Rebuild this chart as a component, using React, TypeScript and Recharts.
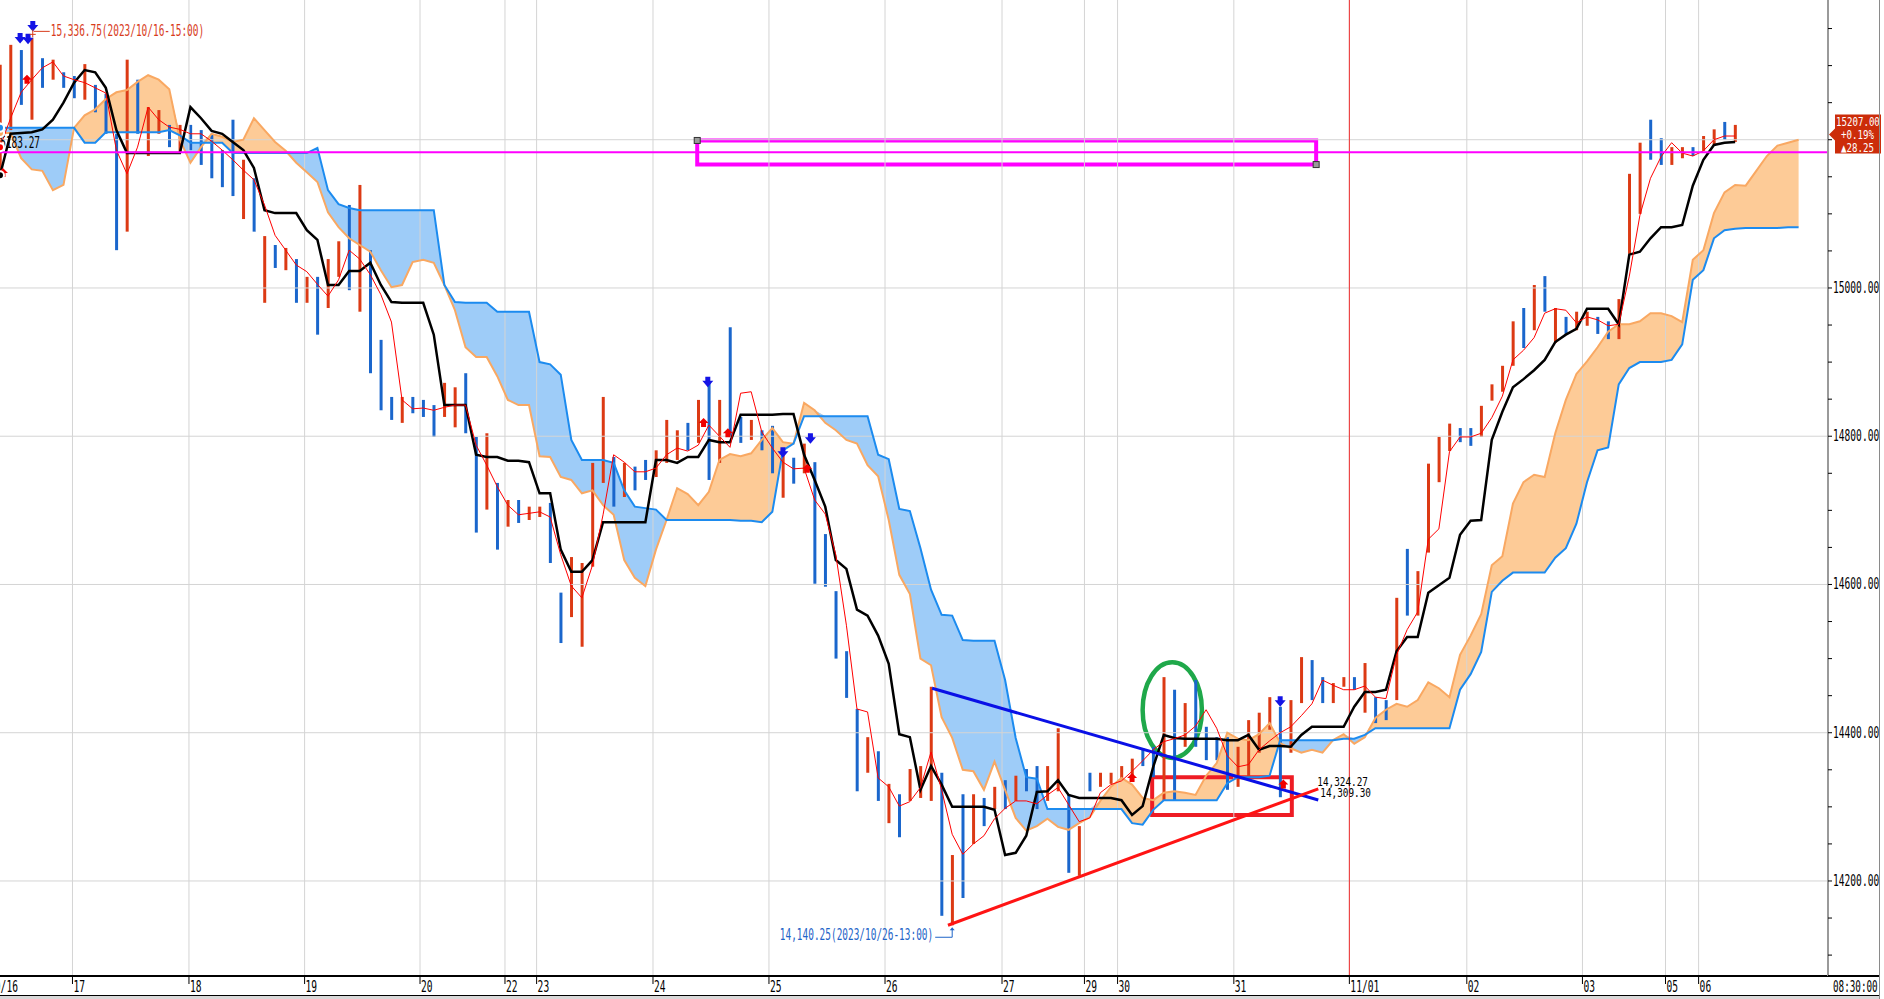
import React from 'react';
import {
  ComposedChart, Line, Area, Bar, Cell, XAxis, YAxis,
  ReferenceLine, ReferenceArea, ReferenceDot,
} from 'recharts';

// ---------- 2-hour candles (high / low / up=1 red, 0 blue) ----------
const highs = [
  15301, 15328, 15321, 15337, 15310, 15308, 15291, 15286, 15302, 15274,
  15262, 15208, 15308, 15281, 15244, 15240, 15220, 15220, 15220, 15213,
  15208, 15186, 15227, 15173, 15148, 15070, 15058, 15054, 15039, 15015,
  15015, 15039, 15063, 15112, 15139, 15051, 14930, 14853, 14853, 14853,
  14849, 14842, 14872, 14866, 14885, 14799, 14804, 14737, 14714, 14714,
  14705, 14705, 14710, 14589, 14637, 14629, 14764, 14853, 14772, 14764,
  14759, 14768, 14781, 14822, 14808, 14818, 14849, 14872, 14849, 14947,
  14826, 14822, 14808, 14814, 14780, 14771, 14790, 14765, 14668, 14591,
  14510, 14432, 14394, 14375, 14331, 14317, 14351, 14355, 14462, 14346,
  14235, 14317, 14317, 14312, 14327, 14336, 14342, 14351, 14355, 14355,
  14406, 14317, 14274, 14346, 14346, 14346, 14355, 14365, 14379, 14381,
  14475, 14458, 14440, 14471, 14408, 14394, 14394, 14381, 14417, 14427,
  14448, 14435, 14444, 14502, 14498, 14475, 14467, 14475, 14475, 14494,
  14448, 14444, 14582, 14648, 14618, 14763, 14799, 14817, 14811, 14811,
  14841, 14870, 14895, 14955, 14973, 15004, 15016, 14973, 14961, 14968,
  14968, 14961, 14955, 14985, 15154, 15196, 15227, 15202, 15190, 15190,
  15190, 15205, 15214, 15224, 15220,
];
const lows = [
  15148, 15213, 15247, 15227, 15270, 15281, 15270, 15256, 15254, 15237,
  15208, 15051, 15076, 15208, 15178, 15208, 15190, 15183, 15186, 15166,
  15148, 15136, 15124, 15093, 15076, 14980, 15027, 15024, 14980, 14980,
  14937, 14973, 15015, 14997, 14968, 14885, 14835, 14822, 14818, 14831,
  14826, 14799, 14826, 14812, 14804, 14670, 14701, 14647, 14678, 14683,
  14687, 14691, 14629, 14521, 14556, 14516, 14624, 14737, 14705, 14718,
  14727, 14741, 14745, 14764, 14768, 14781, 14791, 14741, 14764, 14799,
  14791, 14795, 14781, 14750, 14717, 14736, 14750, 14601, 14597, 14500,
  14447, 14321, 14346, 14308, 14278, 14259, 14308, 14312, 14308, 14153,
  14140.25, 14177, 14250, 14274, 14297, 14297, 14308, 14321, 14297, 14308,
  14321, 14211, 14207, 14321, 14327, 14331, 14336, 14336, 14355, 14340,
  14309, 14309, 14381, 14381, 14363, 14363, 14323, 14327, 14340, 14373,
  14404, 14313, 14373, 14440, 14444, 14440, 14440, 14462, 14458, 14427,
  14413, 14417, 14444, 14558, 14558, 14643, 14738, 14780, 14792, 14787,
  14799, 14848, 14860, 14895, 14919, 14943, 14968, 14926, 14938, 14943,
  14949, 14938, 14931, 14931, 15046, 15100, 15173, 15166, 15166, 15175,
  15178, 15185, 15193, 15200, 15197,
];
const ups = [
  1, 1, 0, 1, 0, 1, 0, 0, 1, 0,
  0, 0, 1, 0, 1, 1, 0, 1, 0, 0,
  0, 0, 0, 1, 0, 1, 0, 1, 0, 1,
  0, 1, 1, 0, 1, 0, 0, 0, 1, 0,
  0, 0, 1, 1, 0, 0, 1, 0, 1, 0,
  1, 1, 0, 0, 1, 1, 1, 1, 0, 1,
  0, 0, 1, 1, 1, 0, 1, 0, 1, 0,
  0, 1, 0, 0, 1, 0, 1, 0, 0, 0,
  0, 0, 1, 0, 1, 0, 1, 1, 1, 0,
  1, 0, 1, 0, 1, 0, 1, 0, 0, 1,
  1, 0, 1, 0, 1, 1, 1, 1, 0, 0,
  1, 0, 1, 0, 0, 0, 0, 1, 1, 1,
  1, 0, 1, 1, 0, 0, 1, 1, 0, 1,
  0, 0, 1, 0, 1, 1, 1, 1, 0, 0,
  1, 1, 1, 1, 0, 1, 0, 1, 0, 1,
  1, 0, 0, 1, 1, 1, 0, 0, 1, 1,
  0, 1, 1, 0, 1,
];

// ---------- Ichimoku lines ----------
const tenkan = [
  15190, 15229, 15264, 15281, 15297, 15305, 15286, 15281, 15277, 15270,
  15263, 15186, 15154, 15190, 15244, 15227, 15217, 15214, 15208, 15208,
  15198, 15186, 15173, 15159, 15146, 15112, 15071, 15051, 15031, 15022,
  15005, 14989, 15011, 15051, 15039, 15018, 14991, 14954, 14849, 14837,
  14838, 14835, 14839, 14842, 14842, 14788, 14761, 14732, 14707, 14694,
  14696, 14698, 14691, 14640, 14598, 14582, 14626, 14694, 14775, 14765,
  14752, 14752, 14757, 14775, 14784, 14780, 14788, 14815, 14800, 14785,
  14858, 14860, 14806, 14784, 14765, 14756, 14757, 14714, 14695, 14640,
  14545, 14432, 14428, 14339, 14327, 14301, 14307, 14326, 14374, 14323,
  14263, 14236, 14250, 14261, 14284, 14298, 14308, 14308, 14304, 14316,
  14326, 14303, 14280, 14285, 14319, 14330, 14335, 14348, 14362, 14377,
  14388, 14392, 14397, 14409, 14431, 14406, 14369, 14354, 14357, 14377,
  14389, 14400, 14408, 14423, 14439, 14471, 14464, 14458, 14458, 14463,
  14448, 14446, 14505, 14539, 14563, 14661, 14675, 14779, 14799, 14799,
  14804, 14825, 14854, 14903, 14916, 14933, 14966, 14972, 14970, 14953,
  14961, 14957, 14949, 14951, 15016, 15098, 15148, 15177, 15196, 15182,
  15178, 15185, 15200, 15205, 15205,
];
const kijun = [
  15152, 15208, 15209, 15210, 15214, 15227, 15250, 15277, 15294, 15291,
  15270, 15213, 15182, 15182, 15182, 15182, 15182, 15182, 15244, 15229,
  15212, 15208, 15197, 15186, 15162, 15105, 15101, 15101, 15101, 15078,
  15065, 15004, 15004, 15023, 15023, 15034, 15004, 14981, 14980, 14980,
  14980, 14937, 14842, 14842, 14842, 14775, 14772, 14772, 14767, 14767,
  14765, 14723, 14723, 14647, 14617, 14617, 14633, 14684, 14684, 14684,
  14684, 14684, 14768, 14768, 14764, 14772, 14772, 14795, 14792, 14792,
  14829, 14829, 14829, 14829, 14830, 14830, 14775, 14741, 14705, 14633,
  14621, 14566, 14558, 14531, 14493, 14398, 14394, 14323, 14355, 14330,
  14300, 14300, 14300, 14300, 14296, 14235, 14238, 14261, 14320, 14321,
  14336, 14316, 14312, 14312, 14312, 14312, 14309, 14289, 14301, 14354,
  14397, 14393, 14392, 14392, 14392, 14392, 14390, 14390, 14397, 14377,
  14382, 14382, 14381, 14397, 14408, 14408, 14408, 14408, 14435, 14455,
  14455, 14458, 14510, 14529, 14529, 14589, 14599, 14609, 14667, 14686,
  14687, 14795, 14833, 14866, 14877, 14889, 14903, 14927, 14937, 14945,
  14972, 14972, 14972, 14951, 15045, 15049, 15067, 15082, 15082, 15085,
  15138, 15173, 15193, 15196, 15197,
];
// leading span A (orange) and span B (blue), shifted forward
const spanA = [
  15209, 15209, 15175, 15160, 15158, 15132, 15139, 15216, 15233, 15241,
  15255, 15264, 15267, 15278, 15287, 15281, 15268, 15200, 15169, 15190,
  15208, 15204, 15197, 15200, 15229, 15213, 15197, 15185, 15169, 15156,
  15143, 15102, 15082, 15067, 15058, 15049, 15024, 15001, 15004, 15035,
  15038, 15034, 15004, 14970, 14920, 14907, 14907, 14881, 14849, 14842,
  14842, 14773, 14772, 14745, 14741, 14723, 14727, 14707, 14694, 14633,
  14609, 14598, 14647, 14687, 14730, 14722, 14707, 14725, 14768, 14776,
  14773, 14777, 14795, 14811, 14792, 14790, 14845, 14835, 14818, 14808,
  14795, 14790, 14761, 14746, 14687, 14613, 14587, 14500, 14491, 14421,
  14393, 14350, 14348, 14323, 14361, 14323, 14285, 14268, 14274, 14284,
  14273, 14269, 14278, 14286, 14308, 14327, 14339, 14330, 14312, 14309,
  14319, 14321, 14319, 14316, 14342, 14359, 14400, 14392, 14390, 14398,
  14413, 14386, 14379, 14373, 14377, 14373, 14390, 14398, 14385, 14394,
  14420, 14431, 14439, 14435, 14444, 14468, 14460, 14448, 14505, 14531,
  14560, 14626, 14638, 14709, 14738, 14748, 14745, 14804, 14849, 14884,
  14901, 14920, 14941, 14951, 14951, 14955, 14966, 14966, 14962, 14954,
  15038, 15051, 15101, 15129, 15139, 15138, 15158, 15178, 15192, 15196, 15200,
];
const spanB = [
  15216, 15216, 15216, 15216, 15216, 15216, 15216, 15216, 15196, 15196,
  15210, 15210, 15210, 15210, 15210, 15210, 15213, 15206, 15196, 15196,
  15196, 15196, 15182, 15182, 15182, 15182, 15182, 15182, 15182, 15182,
  15189, 15132, 15113, 15108, 15105, 15105, 15105, 15105, 15105, 15105,
  15105, 15105, 15004, 14981, 14980, 14980, 14980, 14968, 14968, 14968,
  14968, 14900, 14897, 14883, 14795, 14768, 14768, 14768, 14764, 14727,
  14705, 14703, 14701, 14687, 14687, 14687, 14687, 14687, 14687, 14687,
  14686, 14686, 14684, 14698, 14781, 14790, 14827, 14827, 14827, 14827,
  14827, 14827, 14827, 14775, 14769, 14702, 14699, 14649, 14593, 14559,
  14558, 14525, 14524, 14524, 14524, 14471, 14393, 14340, 14338, 14297,
  14297, 14297, 14297, 14297, 14297, 14297, 14297, 14278, 14276, 14296,
  14309, 14309, 14309, 14309, 14309, 14309, 14332, 14340, 14340, 14340,
  14342, 14390, 14390, 14390, 14390, 14390, 14390, 14392, 14392, 14397,
  14406, 14406, 14406, 14406, 14406, 14406, 14406, 14406, 14458, 14479,
  14509, 14590, 14605, 14616, 14616, 14616, 14616, 14636, 14649, 14682,
  14738, 14781, 14785, 14870, 14892, 14900, 14900, 14900, 14903, 14924,
  15011, 15024, 15067, 15078, 15080, 15081, 15081, 15081, 15081, 15082, 15082,
];

// ---------- axes ----------
const dayTicks = [-1.13, 6.85, 17.86, 28.79, 39.7, 47.73, 50.72, 61.72, 72.68, 83.65, 94.71, 102.5, 105.63, 116.62, 127.54, 138.64, 149.57, 157.42, 160.55];
const dayLabels = ['10/16', '17', '18', '19', '20', '22', '23', '24', '25', '26', '27', '29', '30', '31', '11/01', '02', '03', '05', '06'];
const priceTicks = [14100, 14150, 14200, 14250, 14300, 14350, 14400, 14450, 14500, 14550, 14600, 14650, 14700, 14750, 14800, 14850, 14900, 14950, 15000, 15050, 15100, 15150, 15200, 15250, 15300, 15350];
const priceLabels = [14200, 14400, 14600, 14800, 15000];
const gridPrices = [14200, 14400, 14600, 14800, 15000, 15200];
const X_MIN = -1.5123;
const X_MAX = 172.779;
const Y_MIN = 14071.8;
const Y_MAX = 15388.5;

// ---------- drawings / annotations ----------
const resistance = 15183.27;
const lastPrice = 15207.0;
const lastText = ['15207.00', '+0.19%', '\u25B228.25'];
const highNote = { x: 3, y: 15336.75, text: '15,336.75(2023/10/16-15:00)' };
const lowNote = { x: 90, y: 14140.25, text: '14,140.25(2023/10/26-13:00)' };
const blueTrend = [{ x: 88.1, y: 14460 }, { x: 124.6, y: 14309.3 }];
const redTrend = [{ x: 89.6, y: 14140.25 }, { x: 124.6, y: 14324.27 }];
const magentaBox = { x1: 65.9, x2: 124.4, y1: 15166.5, y2: 15199 };
const redBox = { x1: 108.9, x2: 122.1, y1: 14289, y2: 14340 };
const greenEllipse = { x1: 108.0, x2: 113.6, y1: 14366, y2: 14495 };
const novLine = 127.54;
const sellSignals = [
  { x: 1.9, y: 15336 }, { x: 2.65, y: 15335 }, { x: 3.1, y: 15352 },
  { x: 66.9, y: 14872 }, { x: 74, y: 14777 }, { x: 76.6, y: 14796 }, { x: 121, y: 14441 },
];
const buySignals = [
  { x: 0.28, y: 15155 }, { x: 2.55, y: 15281 }, { x: 66.5, y: 14818 },
  { x: 68.8, y: 14804 }, { x: 76.3, y: 14756 }, { x: 107, y: 14339 }, { x: 121.3, y: 14330 },
];

const RED = '#DC3A14';
const BLUE = '#1A66CC';

const rows = spanA.map((a, i) => ({
  i,
  a,
  b: spanB[i],
  h: i < highs.length ? highs[i] : null,
  l: i < lows.length ? lows[i] : null,
  up: i < ups.length ? ups[i] : 0,
  t: i < tenkan.length ? tenkan[i] : null,
  k: i < kijun.length ? kijun[i] : null,
}));

const MONO = "'DejaVu Sans Mono', 'Liberation Mono', monospace";

function CText({ x, y, size, sx, fill = '#000', anchor = 'start', children }: any) {
  return (
    <text
      transform={`translate(${x},${y}) scale(${sx},1)`}
      fontSize={size}
      fill={fill}
      textAnchor={anchor}
      fontFamily={MONO}
    >
      {children}
    </text>
  );
}

const XTick = (props: any) => {
  const { x, y, payload } = props;
  const idx = dayTicks.indexOf(payload.value);
  return (
    <g>
      <line x1={x} x2={x} y1={y} y2={y + 8} stroke="#000" strokeWidth={1} />
      <CText x={x + 1} y={y + 16} size={16} sx={0.6}>{idx >= 0 ? dayLabels[idx] : ''}</CText>
    </g>
  );
};

const YTick = (props: any) => {
  const { x, y, payload } = props;
  if (priceLabels.indexOf(payload.value) < 0) return <g />;
  return <CText x={x} y={y + 5} size={16} sx={0.6}>{payload.value.toFixed(2)}</CText>;
};

const candleRange = (d: any) => (d.h == null ? null : [d.l, d.h]);
const orangeRange = (d: any) => (d.a >= d.b ? [d.b, d.a] : [d.b, d.b]);
const blueRange = (d: any) => (d.b > d.a ? [d.a, d.b] : [d.a, d.a]);

const sellShape = (p: any) => (
  <path
    d={`M${p.cx - 2.5},${p.cy - 6} h5 v4 h3 l-5.5,6.5 l-5.5,-6.5 h3 z`}
    fill="#1414E6"
  />
);
const buyShape = (p: any) => (
  <path
    d={`M${p.cx},${p.cy - 5} l5,5 h-2.5 v4 h-5 v-4 h-2.5 z`}
    fill="#F00000"
  />
);
const handleShape = (p: any) => (
  <rect x={p.cx - 3} y={p.cy - 3} width={6} height={6} fill="#9a9a9a" stroke="#333" strokeWidth={1} />
);

export default function App() {
  return (
    <div style={{ position: 'relative', width: 1884, height: 999, overflow: 'hidden', background: '#fff' }}>
      <style>{'body{margin:0;}'}</style>
      <div style={{ position: 'absolute', left: -16, top: 0 }}>
        <ComposedChart width={1900} height={999} data={rows} margin={{ top: 0, right: 0, bottom: 0, left: 0 }}>
          <XAxis
            dataKey="i"
            type="number"
            domain={[X_MIN, X_MAX]}
            allowDataOverflow
            ticks={dayTicks}
            interval={0}
            height={23}
            tickLine={false}
            tickSize={0}
            tickMargin={0}
            axisLine={{ stroke: '#000', strokeWidth: 2 }}
            tick={<XTick />}
          />
          <YAxis
            orientation="right"
            type="number"
            domain={[Y_MIN, Y_MAX]}
            allowDataOverflow
            ticks={priceTicks}
            interval={0}
            width={56}
            tickSize={4}
            tickMargin={1}
            tickLine={{ stroke: '#000' }}
            axisLine={{ stroke: '#9a9a9a', strokeWidth: 2 }}
            tick={<YTick />}
          />

          {gridPrices.map((v) => (
            <ReferenceLine key={'gy' + v} y={v} stroke="#D4D4D4" strokeWidth={1} />
          ))}
          {dayTicks.map((v) => (
            <ReferenceLine key={'gx' + v} x={v} stroke="#D4D4D4" strokeWidth={1} />
          ))}

          <Area dataKey={orangeRange} type="linear" fill="#FDCB97" fillOpacity={1} stroke="none" isAnimationActive={false} />
          <Area dataKey={blueRange} type="linear" fill="#9ECCF8" fillOpacity={1} stroke="none" isAnimationActive={false} />
          <Line dataKey="a" type="linear" stroke="#F9A862" strokeWidth={2} dot={false} isAnimationActive={false} />
          <Line dataKey="b" type="linear" stroke="#1C8BEF" strokeWidth={2} dot={false} isAnimationActive={false} />

          <ReferenceLine x={novLine} stroke="#F03030" strokeWidth={1} />

          <Bar dataKey={candleRange} barSize={3} isAnimationActive={false}>
            {rows.map((r) => (
              <Cell key={'c' + r.i} fill={r.up ? RED : BLUE} />
            ))}
          </Bar>

          <Line dataKey="k" type="linear" stroke="#000" strokeWidth={2.5} dot={false} isAnimationActive={false} />
          <Line dataKey="t" type="linear" stroke="#FF0000" strokeWidth={1} dot={false} isAnimationActive={false} />

          <ReferenceLine y={resistance} stroke="#FF00FF" strokeWidth={2} />
          <ReferenceArea
            x1={magentaBox.x1} x2={magentaBox.x2} y1={magentaBox.y1} y2={magentaBox.y2}
            fill="none" fillOpacity={0} stroke="#FF00FF" strokeWidth={4}
          />
          <ReferenceDot x={magentaBox.x1} y={magentaBox.y2} r={3} shape={handleShape} />
          <ReferenceDot x={magentaBox.x2} y={magentaBox.y1} r={3} shape={handleShape} />

          <ReferenceArea
            x1={redBox.x1} x2={redBox.x2} y1={redBox.y1} y2={redBox.y2}
            fill="none" fillOpacity={0} stroke="#EE1C24" strokeWidth={4}
          />
          <ReferenceArea
            x1={greenEllipse.x1} x2={greenEllipse.x2} y1={greenEllipse.y1} y2={greenEllipse.y2}
            shape={(p: any) => (
              <ellipse
                cx={p.x + p.width / 2} cy={p.y + p.height / 2}
                rx={p.width / 2} ry={p.height / 2}
                fill="none" stroke="#1FA84A" strokeWidth={4.5}
              />
            )}
          />

          <ReferenceLine segment={blueTrend} stroke="#0A10E6" strokeWidth={3} />
          <ReferenceLine segment={redTrend} stroke="#FF1414" strokeWidth={3} />
          <ReferenceDot
            x={redTrend[1].x} y={redTrend[1].y} r={2} ifOverflow="visible"
            shape={(p: any) => (
              <CText x={p.cx - 1} y={p.cy - 3} size={12} sx={0.78}>14,324.27</CText>
            )}
          />
          <ReferenceDot
            x={blueTrend[1].x} y={blueTrend[1].y} r={2} ifOverflow="visible"
            shape={(p: any) => (
              <CText x={p.cx + 2} y={p.cy - 3} size={12} sx={0.78}>14,309.30</CText>
            )}
          />

          {sellSignals.map((s, k) => (
            <ReferenceDot key={'s' + k} x={s.x} y={s.y} r={4} shape={sellShape} />
          ))}
          {buySignals.map((s, k) => (
            <ReferenceDot key={'b' + k} x={s.x} y={s.y} r={4} shape={buyShape} />
          ))}

          <ReferenceDot
            x={highNote.x} y={highNote.y} r={2} ifOverflow="visible"
            shape={(p: any) => (
              <g>
                <line x1={p.cx + 1} x2={p.cx + 1} y1={p.cy - 1} y2={p.cy - 9} stroke="#D83C1C" strokeWidth={1} />
                <line x1={p.cx - 2} x2={p.cx + 4} y1={p.cy - 4} y2={p.cy - 4} stroke="#D83C1C" strokeWidth={1} />
                <line x1={p.cx + 2} x2={p.cx + 18} y1={p.cy - 7} y2={p.cy - 7} stroke="#D83C1C" strokeWidth={1} />
                <CText x={p.cx + 19} y={p.cy - 2} size={15} sx={0.63} fill="#D83C1C">{highNote.text}</CText>
              </g>
            )}
          />
          <ReferenceDot
            x={lowNote.x} y={lowNote.y} r={2} ifOverflow="visible"
            shape={(p: any) => (
              <g>
                <path d={`M${p.cx},${p.cy + 2} l-2.5,3 h5 z`} fill="#1E64C8" />
                <line x1={p.cx} x2={p.cx} y1={p.cy + 4} y2={p.cy + 12} stroke="#1E64C8" strokeWidth={1} />
                <line x1={p.cx} x2={p.cx - 17} y1={p.cy + 12} y2={p.cy + 12} stroke="#1E64C8" strokeWidth={1} />
                <CText x={p.cx - 19} y={p.cy + 15} size={15} sx={0.63} fill="#1E64C8" anchor="end">{lowNote.text}</CText>
              </g>
            )}
          />
          <ReferenceDot
            x={0} y={resistance} r={2} ifOverflow="visible"
            shape={(p: any) => (
              <CText x={p.cx + 40} y={p.cy - 4} size={15} sx={0.63} anchor="end">{resistance.toFixed(2)}</CText>
            )}
          />

          <ReferenceDot
            x={X_MAX} y={lastPrice} r={2} ifOverflow="visible"
            shape={(p: any) => (
              <g>
                <path
                  d={`M${p.cx + 1},${p.cy} L${p.cx + 7},${p.cy - 6} V${p.cy - 20} H${p.cx + 53} V${p.cy + 19} H${p.cx + 7} V${p.cy + 6} Z`}
                  fill="#CC2C0A"
                />
                <CText x={p.cx + 8} y={p.cy - 9} size={12} sx={0.76} fill="#fff">{lastText[0]}</CText>
                <CText x={p.cx + 13} y={p.cy + 4} size={12} sx={0.76} fill="#fff">{lastText[1]}</CText>
                <CText x={p.cx + 13} y={p.cy + 17} size={12} sx={0.76} fill="#fff">{lastText[2]}</CText>
              </g>
            )}
          />
          <ReferenceDot
            x={X_MAX} y={Y_MIN} r={1} ifOverflow="visible"
            shape={(p: any) => (
              <CText x={p.cx + 5} y={p.cy + 16} size={16} sx={0.58}>08:30:00</CText>
            )}
          />
        </ComposedChart>
      </div>
      <div style={{ position: 'absolute', left: 1828, top: 975, width: 52, height: 2, background: '#000' }} />
      <div style={{ position: 'absolute', left: 0, top: 995, width: 1880, height: 1, background: '#000' }} />
      <div style={{ position: 'absolute', left: 0, top: 996, width: 1880, height: 3, background: '#D8D8D8' }} />
      <div style={{ position: 'absolute', left: 1879, top: 0, width: 1, height: 999, background: '#8a8a8a' }} />
    </div>
  );
}
